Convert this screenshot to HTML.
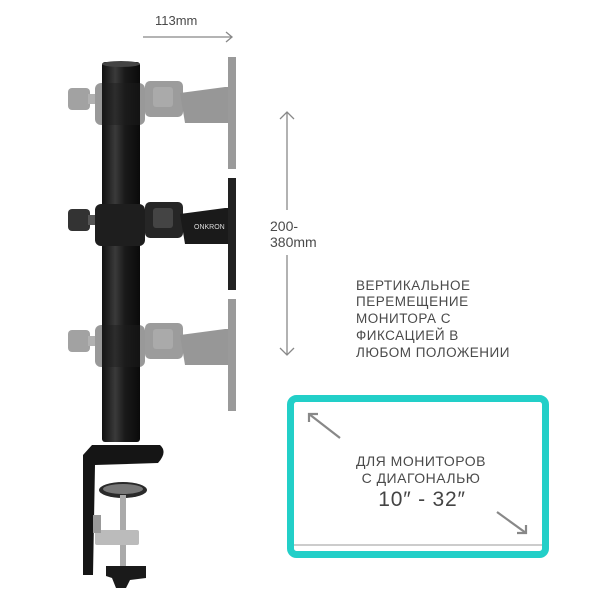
<!DOCTYPE html>
<html><head><meta charset="utf-8"><style>
body{margin:0;background:#fff;width:600px;height:600px;overflow:hidden}
text{font-family:"Liberation Sans",sans-serif;fill:#4a4a4a}
</style></head><body>
<svg width="600" height="600" viewBox="0 0 600 600" xmlns="http://www.w3.org/2000/svg">
<defs>
<linearGradient id="pole" x1="0" x2="1"><stop offset="0" stop-color="#111"/><stop offset=".35" stop-color="#3a3a3a"/><stop offset=".6" stop-color="#1a1a1a"/><stop offset="1" stop-color="#0a0a0a"/></linearGradient>
<g id="mount">
<rect x="68" y="-13" width="22" height="22" rx="4" fill="#333"/>
<rect x="88" y="-7" width="8" height="10" fill="#555"/>
<rect x="95" y="-18" width="50" height="42" rx="6" fill="#1e1e1e"/>
<rect x="145" y="-20" width="38" height="36" rx="5" fill="#262626"/>
<rect x="153" y="-14" width="20" height="20" rx="3" fill="#444"/>
<path d="M180 -8 L225 -14 L230 -14 L230 22 L185 22 Z" fill="#1a1a1a"/>
<rect x="228" y="-44" width="8" height="112" fill="#222"/>
</g>
</defs>
<!-- pole -->
<rect x="102" y="62" width="38" height="380" rx="3" fill="url(#pole)"/>
<ellipse cx="121" cy="64" rx="19" ry="3" fill="#444"/>
<!-- ghost mounts -->
<g opacity="0.45"><use href="#mount" transform="translate(0,101)"/></g>
<g opacity="0.45"><use href="#mount" transform="translate(0,343)"/></g>
<!-- black mount -->
<use href="#mount" transform="translate(0,222)"/>
<text x="194" y="229" font-size="7" style="fill:#ddd">ONKRON</text>
<!-- clamp -->
<path d="M92 445 L160 445 Q168 452 158 463 L95 465 L93 575 L83 575 L83 455 Z" fill="#151515"/>
<ellipse cx="123" cy="490" rx="24" ry="8" fill="#2a2a2a"/>
<ellipse cx="123" cy="489" rx="20" ry="5" fill="#777"/>
<rect x="120" y="495" width="6" height="72" fill="#aaa"/>
<rect x="95" y="530" width="44" height="15" rx="2" fill="#bbb"/>
<rect x="93" y="515" width="8" height="18" fill="#999"/>
<path d="M106 566 L146 566 L146 578 L130 580 L126 588 L116 588 L112 578 L106 576 Z" fill="#1a1a1a"/>
<!-- 113mm -->
<text x="155" y="25" font-size="13">113mm</text>
<line x1="143" y1="37" x2="232" y2="37" stroke="#888" stroke-width="1.3"/>
<path d="M226 32 L232 37 L226 42" fill="none" stroke="#888" stroke-width="1.3"/>
<!-- vertical arrow -->
<line x1="287" y1="112" x2="287" y2="210" stroke="#888" stroke-width="1.3"/>
<line x1="287" y1="255" x2="287" y2="355" stroke="#888" stroke-width="1.3"/>
<path d="M280 119 L287 112 L294 119 M280 348 L287 355 L294 348" fill="none" stroke="#888" stroke-width="1.3"/>
<text x="270" y="231" font-size="14">200-</text>
<text x="270" y="247" font-size="14">380mm</text>
<!-- description -->
<g font-size="13.5" letter-spacing=".5">
<text x="356" y="290">ВЕРТИКАЛЬНОЕ</text>
<text x="356" y="306">ПЕРЕМЕЩЕНИЕ</text>
<text x="356" y="323">МОНИТОРА С</text>
<text x="356" y="340">ФИКСАЦИЕЙ В</text>
<text x="356" y="357">ЛЮБОМ ПОЛОЖЕНИИ</text>
</g>
<!-- teal box -->
<rect x="290.5" y="398.5" width="255" height="156" rx="6" fill="#fff" stroke="#22cfc8" stroke-width="7"/>
<line x1="294" y1="545" x2="542" y2="545" stroke="#999" stroke-width="1"/>
<g stroke="#888" stroke-width="2.2" fill="none">
<line x1="309" y1="414" x2="340" y2="438"/><path d="M309 422 L309 414 L318 414"/>
<line x1="497" y1="512" x2="526" y2="533"/><path d="M526 525 L526 533 L517 533"/>
</g>
<text x="421" y="466" font-size="14" text-anchor="middle" letter-spacing=".5">ДЛЯ МОНИТОРОВ</text>
<text x="421" y="483" font-size="14" text-anchor="middle" letter-spacing=".5">С ДИАГОНАЛЬЮ</text>
<text x="422" y="506" font-size="21" text-anchor="middle" style="fill:#444" letter-spacing=".8">10″ - 32″</text>
</svg>
</body></html>
